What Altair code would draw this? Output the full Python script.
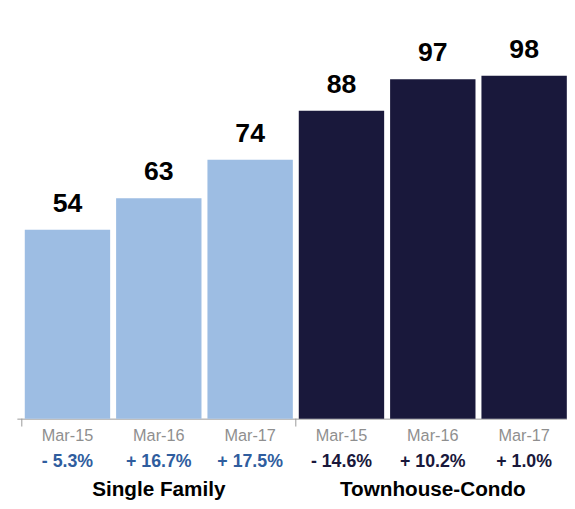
import altair as alt
import pandas as pd

FONT = "Liberation Sans"

groups = ["Single Family"] * 3 + ["Townhouse-Condo"] * 3
months = ["Mar-15", "Mar-16", "Mar-17"] * 2
values = [54, 63, 74, 88, 97, 98]
changes = ["- 5.3%", "+ 16.7%", "+ 17.5%", "- 14.6%", "+ 10.2%", "+ 1.0%"]
group_names = ["Single Family", "Townhouse-Condo"]
bar_colors = ["#9dbde3", "#19183b"]
pct_colors = ["#2f5d9e", "#19183b"]

order = list(range(len(values)))  # slot of each bar, left to right
df = pd.DataFrame({"pos": order, "group": groups, "month": months,
                   "value": values, "change": changes})
group_df = pd.DataFrame({"pos": [1, 4], "group": group_names})
tick_df = pd.DataFrame({"pos": [0, 3]})

H = 355
W = 558
STEP = 94.33
xscale = alt.Scale(domain=[-0.5, -0.5 + W / STEP], zero=False, nice=False)
x = alt.X("pos:Q", scale=xscale,
          axis=alt.Axis(labels=False, ticks=False, grid=False, title=None,
                        domainColor="#9a9a9a", domainWidth=1))
y = alt.Y("value:Q", scale=alt.Scale(domain=[0, 100], nice=False), axis=None)

base = alt.Chart(df)

bars = base.mark_bar(width=86.6).encode(
    x=x, y=y,
    color=alt.Color("group:N", scale=alt.Scale(domain=group_names, range=bar_colors), legend=None),
)

vals = base.mark_text(font=FONT, fontSize=27, fontWeight="bold", baseline="alphabetic",
                      dy=-18, color="#000000").encode(x=x, y=y, text="value:Q")

month_txt = base.mark_text(font=FONT, fontSize=16.5, color="#8f8f8f",
                           baseline="alphabetic").encode(
    x=x, y=alt.value(H + 23), text="month:N")

pct_txt = base.mark_text(font=FONT, fontSize=18, fontWeight="bold",
                         baseline="alphabetic").encode(
    x=x, y=alt.value(H + 49), text="change:N",
    color=alt.Color("group:N", scale=alt.Scale(domain=group_names, range=pct_colors), legend=None),
)

grp_txt = alt.Chart(group_df).mark_text(font=FONT, fontSize=21, fontWeight="bold",
                                        baseline="alphabetic", color="#000000").encode(
    x=alt.X("pos:Q", scale=xscale), y=alt.value(H + 78), text="group:N")

ticks = alt.Chart(tick_df).transform_calculate(edge="datum.pos - 0.5").mark_rule(
    color="#9a9a9a", strokeWidth=1).encode(
    x=alt.X("edge:Q", scale=xscale),
    y=alt.value(H), y2=alt.value(H + 8))

chart = alt.layer(bars, vals, ticks, month_txt, pct_txt, grp_txt).resolve_scale(
    color="independent"
).properties(
    width=W, height=H,
    autosize=alt.AutoSizeParams(type="none"),
    padding={"left": 9, "top": 58, "right": 0, "bottom": 80},
).configure_view(stroke=None)

chart.save("out.html", embed_options={"renderer": "svg", "actions": False})
